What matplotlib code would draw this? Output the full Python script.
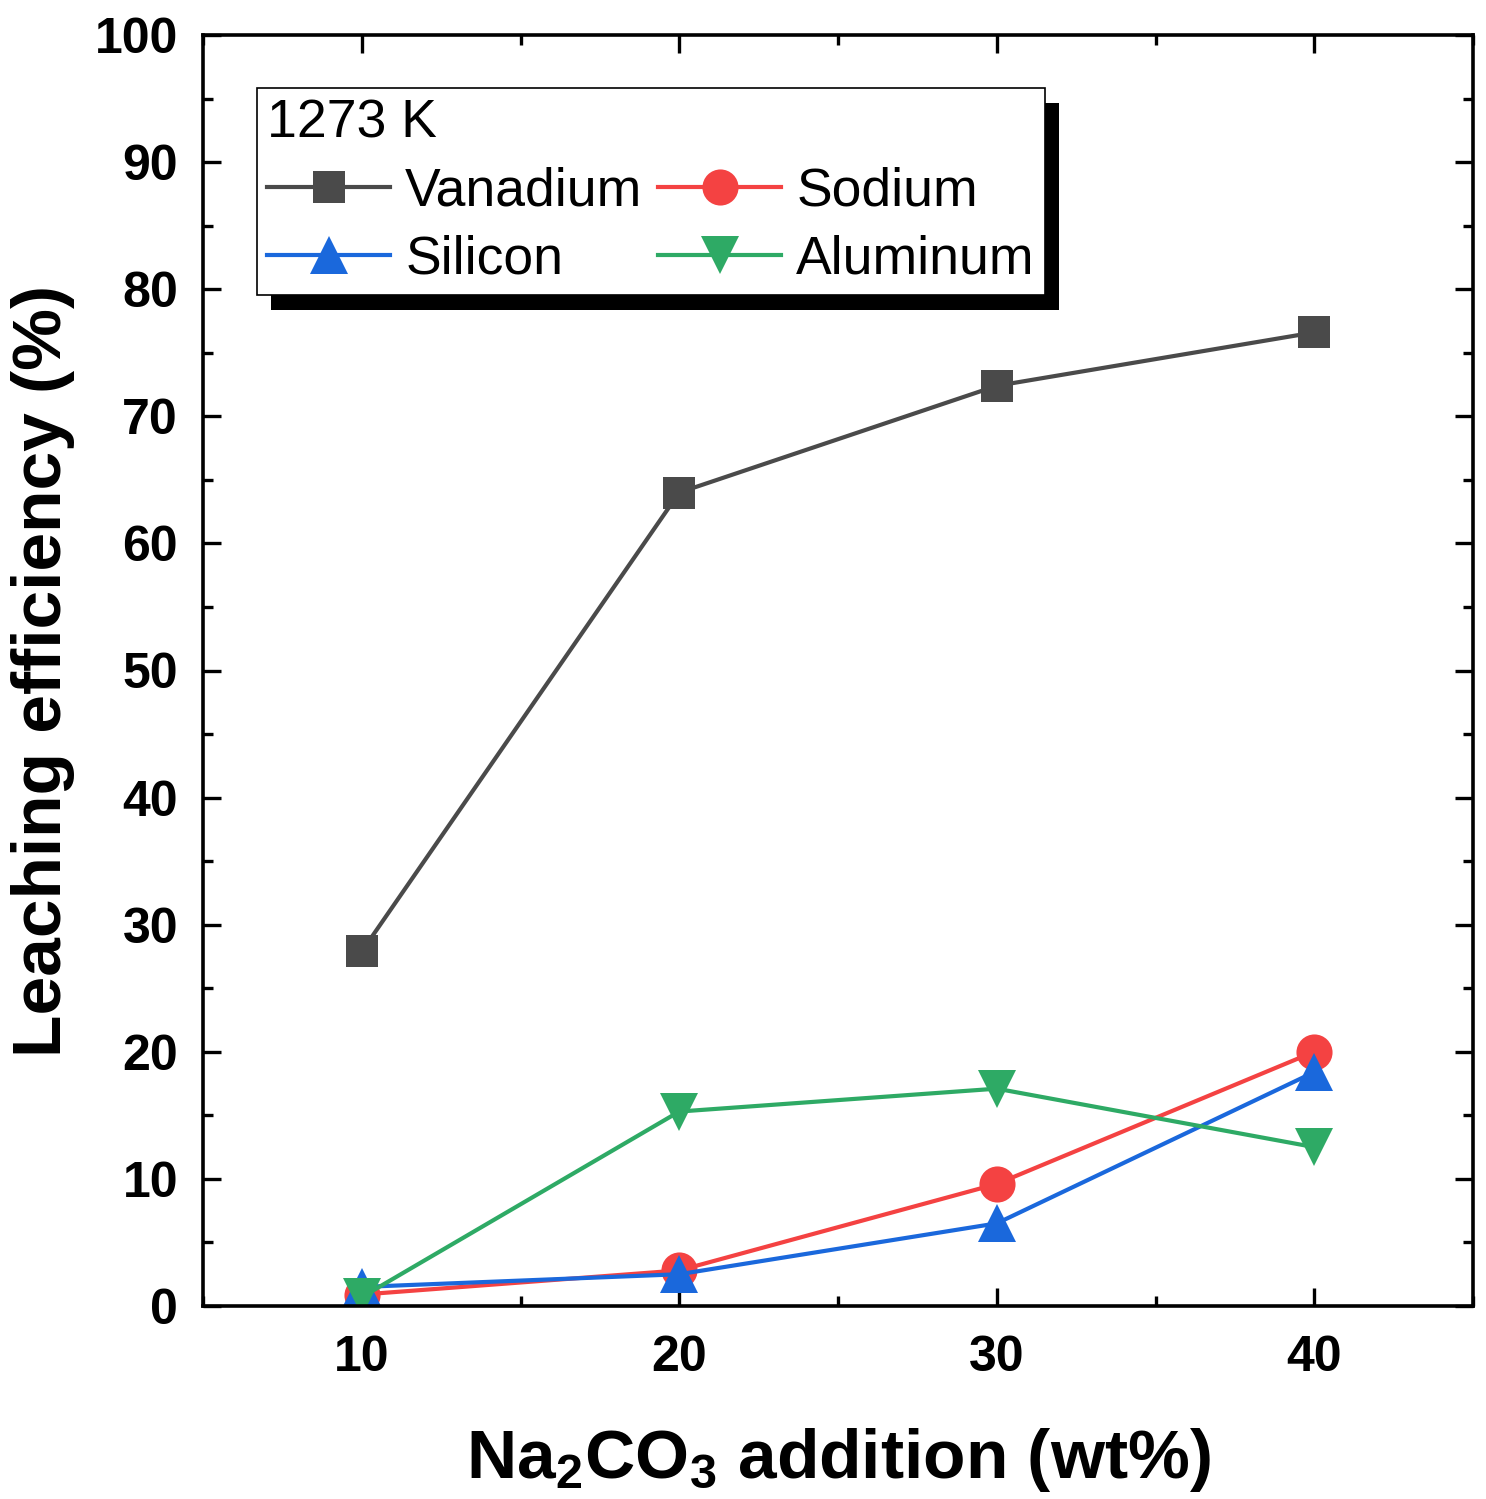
import matplotlib
matplotlib.use("Agg")
import matplotlib.pyplot as plt
from matplotlib.patches import Rectangle
from matplotlib.transforms import IdentityTransform
from matplotlib.ticker import MultipleLocator

na2co3 = [10, 20, 30, 40]
vanadium = [27.9, 64.0, 72.4, 76.6]
sodium = [0.9, 2.8, 9.6, 20.0]
silicon = [1.5, 2.5, 6.5, 18.4]
aluminum = [0.7, 15.3, 17.1, 12.5]

series = [
    ("Vanadium", vanadium, "#4A4A4A", "s", 23),
    ("Sodium", sodium, "#F44242", "o", 26),
    ("Silicon", silicon, "#1A68DC", "^", 28),
    ("Aluminum", aluminum, "#2EAA65", "v", 28),
]

plt.rcParams['font.family'] = ['Liberation Sans', 'DejaVu Sans']
plt.rcParams['mathtext.fontset'] = 'custom'
plt.rcParams['mathtext.rm'] = 'Liberation Sans'
plt.rcParams['mathtext.bf'] = 'Liberation Sans:bold'
plt.rcParams['mathtext.it'] = 'Liberation Sans:italic'

fig = plt.figure(figsize=(14.86, 14.99), dpi=100)
ax = fig.add_axes([203/1486, 1 - 1306/1499, (1473-203)/1486, (1306-35)/1499])

lines = {}
for name, vals, col, mk, ms in series:
    ln, = ax.plot(na2co3, vals, color=col, marker=mk, markersize=ms, lw=3.0,
                  label=name, markeredgewidth=0)
    lines[name] = ln

ax.set_xlim(5, 45)
ax.set_ylim(0, 100)
ax.xaxis.set_major_locator(MultipleLocator(10))
ax.xaxis.set_minor_locator(MultipleLocator(5))
ax.yaxis.set_major_locator(MultipleLocator(10))
ax.yaxis.set_minor_locator(MultipleLocator(5))

for s in ax.spines.values():
    s.set_linewidth(2.6)
ax.tick_params(which='both', direction='in', top=True, right=True, width=2.4)
ax.tick_params(which='major', length=13)
ax.tick_params(which='minor', length=7)
ax.tick_params(axis='x', which='major', labelsize=36, pad=21)
ax.tick_params(axis='y', which='major', labelsize=36, pad=18)
for lab in ax.get_xticklabels() + ax.get_yticklabels():
    lab.set_fontweight('bold')

ax.set_xlabel(r"Na$_\mathbf{2}$CO$_\mathbf{3}$ addition (wt%)", fontsize=50,
              fontweight='bold', labelpad=32)
ax.set_ylabel("Leaching efficiency (%)", fontsize=50, fontweight='bold', labelpad=14)

order = ["Vanadium", "Silicon", "Sodium", "Aluminum"]
leg = ax.legend([lines[n] for n in order], order, ncol=2, title="1273 K",
                loc='upper left', bbox_to_anchor=(54/1270, 1 - 53/1271),
                fontsize=38.5, title_fontsize=38.5, alignment='left',
                fancybox=False, framealpha=1, edgecolor='black',
                handlelength=2.3, handletextpad=0.28, columnspacing=0.3,
                borderpad=0.19, labelspacing=0.34, borderaxespad=0)
leg.get_frame().set_linewidth(1.2)
leg.set_zorder(6)

fig.canvas.draw()
bb = leg.get_window_extent()
shadow = Rectangle((bb.x0 + 14, bb.y0 - 15), bb.width, bb.height,
                   transform=IdentityTransform(), facecolor='black',
                   edgecolor='none', zorder=5.5)
ax.add_artist(shadow)

fig.savefig("out.png", dpi=100)
